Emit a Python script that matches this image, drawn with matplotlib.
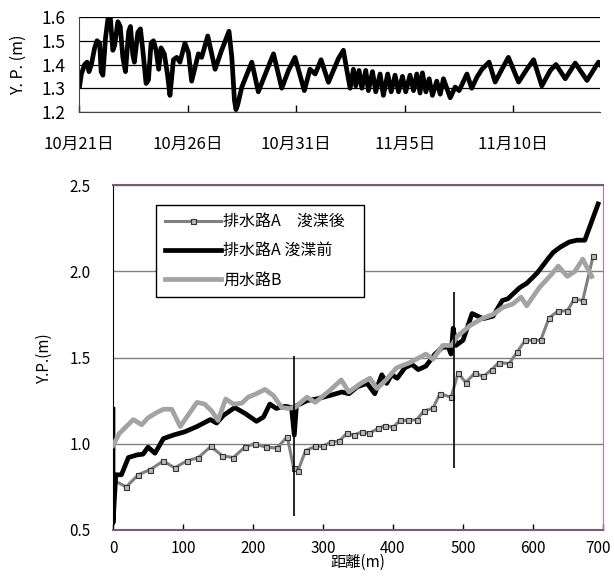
import matplotlib
matplotlib.use("Agg")
import matplotlib.pyplot as plt
from matplotlib.transforms import ScaledTranslation

plt.rcParams["font.family"] = ["Noto Sans CJK JP", "DejaVu Sans"]

# --- top panel: water level record, days counted from 10/21 ---
WL_DAYS = [
    0.03, 0.11, 0.26, 0.37, 0.46, 0.57, 0.72, 0.83, 0.95, 1.02, 1.10, 1.22,
    1.33, 1.44, 1.56, 1.64, 1.79, 1.90, 2.02, 2.14, 2.29, 2.37, 2.48, 2.55,
    2.71, 2.83, 2.94, 3.09, 3.20, 3.32, 3.43, 3.55, 3.67, 3.78, 3.93, 4.08,
    4.19, 4.35, 4.50, 4.65, 4.88, 5.04, 5.19, 5.50, 5.65, 5.93, 6.27, 6.57,
    6.91, 7.04, 7.16, 7.23, 7.31, 7.50, 7.96, 8.26, 8.65, 8.96, 9.34, 9.65,
    9.95, 10.38, 10.64, 10.88, 11.15, 11.49, 11.95, 12.18, 12.33, 12.49,
    12.64, 12.75, 12.90, 13.03, 13.21, 13.33, 13.52, 13.67, 13.87, 14.02,
    14.22, 14.38, 14.56, 14.72, 14.90, 15.05, 15.25, 15.41, 15.56, 15.71,
    15.82, 15.98, 16.13, 16.28, 16.48, 16.64, 16.79, 17.10, 17.33, 17.51,
    17.87, 18.09, 18.32, 18.56, 18.89, 19.17, 19.48, 19.78, 20.25, 20.63,
    20.94, 21.32, 21.71, 21.97, 22.40, 22.86, 23.40, 23.93, 24.00,
]
WL_LEVEL = [
    1.31, 1.36, 1.40, 1.41, 1.37, 1.40, 1.47, 1.50, 1.49, 1.37, 1.355, 1.51,
    1.59, 1.60, 1.46, 1.48, 1.58, 1.56, 1.43, 1.37, 1.54, 1.56, 1.44, 1.41,
    1.535, 1.55, 1.46, 1.32, 1.335, 1.49, 1.50, 1.46, 1.38, 1.47, 1.445, 1.355,
    1.27, 1.42, 1.43, 1.41, 1.49, 1.45, 1.33, 1.445, 1.43, 1.52, 1.38, 1.46,
    1.54, 1.43, 1.25, 1.21, 1.23, 1.305, 1.41, 1.285, 1.375, 1.445, 1.30, 1.375,
    1.43, 1.29, 1.38, 1.36, 1.42, 1.325, 1.425, 1.46, 1.38, 1.30,
    1.38, 1.31, 1.375, 1.30, 1.375, 1.29, 1.37, 1.285, 1.36, 1.27,
    1.36, 1.285, 1.355, 1.285, 1.35, 1.285, 1.355, 1.29, 1.36, 1.28,
    1.365, 1.285, 1.34, 1.27, 1.33, 1.275, 1.34, 1.26, 1.305, 1.29,
    1.36, 1.30, 1.345, 1.38, 1.41, 1.326, 1.38, 1.43, 1.326, 1.38,
    1.42, 1.31, 1.375, 1.40, 1.34, 1.406, 1.333, 1.41, 1.40,
]
DATE_TICKS = [0, 5, 10, 15, 20]
DATE_LABELS = ["10月21日", "10月26日", "10月31日", "11月5日", "11月10日"]

# --- bottom panel: longitudinal profile ---
AFTER_X = [0, 19, 36, 53, 72, 88, 105, 122, 140, 156, 172, 188, 203, 218, 234,
           249, 258, 264, 275, 289, 300, 311, 323, 334, 344, 356, 366, 379,
           389, 400, 410, 421, 434, 444, 457, 467, 483, 493, 504, 517, 529,
           541, 551, 566, 577, 589, 600, 611, 623, 636, 649, 659, 671, 686]
AFTER_Y = [0.79, 0.75, 0.82, 0.85, 0.90, 0.86, 0.90, 0.92, 0.985, 0.93, 0.92,
           0.98, 1.00, 0.98, 0.975, 1.04, 0.86, 0.84, 0.96, 0.985, 0.985, 1.01,
           1.015, 1.06, 1.05, 1.07, 1.06, 1.09, 1.105, 1.095, 1.135, 1.135,
           1.14, 1.19, 1.205, 1.29, 1.27, 1.41, 1.355, 1.41, 1.39, 1.43, 1.47,
           1.465, 1.53, 1.60, 1.60, 1.60, 1.73, 1.77, 1.77, 1.84, 1.83, 2.09]

BEFORE_X = [0, 0, 4, 12, 22, 34, 43, 50, 60, 72, 86, 103, 120, 139, 148, 158,
            174, 189, 205, 215, 224, 233, 246, 255, 259, 262, 277, 291, 310,
            327, 337, 349, 363, 374, 384, 391, 398, 406, 417, 427, 436, 447,
            460, 471, 479, 483, 486, 490, 500, 513, 529, 543, 556, 564, 581,
            591, 606, 621, 629, 639, 652, 663, 674, 693]
BEFORE_Y = [1.20, 0.54, 0.82, 0.82, 0.92, 0.935, 0.94, 0.98, 0.945, 1.03, 1.05,
            1.07, 1.10, 1.14, 1.12, 1.165, 1.21, 1.175, 1.13, 1.155, 1.23,
            1.205, 1.217, 1.21, 1.05, 1.22, 1.25, 1.26, 1.28, 1.30, 1.29, 1.33,
            1.35, 1.29, 1.40, 1.35, 1.40, 1.38, 1.44, 1.46, 1.43, 1.45, 1.52,
            1.56, 1.56, 1.52, 1.67, 1.57, 1.60, 1.755, 1.725, 1.74, 1.83, 1.84,
            1.905, 1.93, 1.99, 2.07, 2.11, 2.14, 2.17, 2.18, 2.18, 2.39]

CANAL_X = [0, 9, 29, 41, 50, 62, 72, 84, 96, 120, 131, 141, 150, 161, 172, 184,
           193, 205, 217, 229, 241, 250, 260, 277, 289, 310, 326, 337, 354,
           367, 377, 390, 405, 424, 447, 457, 471, 484, 491, 510, 527, 543,
           557, 571, 583, 591, 609, 626, 636, 649, 660, 671, 684]
CANAL_Y = [0.99, 1.06, 1.14, 1.11, 1.15, 1.18, 1.20, 1.20, 1.10, 1.24, 1.23,
           1.19, 1.135, 1.26, 1.23, 1.235, 1.27, 1.29, 1.315, 1.28, 1.21,
           1.205, 1.21, 1.27, 1.24, 1.31, 1.37, 1.30, 1.35, 1.38, 1.32, 1.37,
           1.44, 1.47, 1.52, 1.49, 1.57, 1.57, 1.62, 1.685, 1.725, 1.75, 1.79,
           1.81, 1.85, 1.80, 1.905, 1.98, 2.03, 1.97, 2.00, 2.07, 1.97]

VLINE_X = [259, 487]
VLINE_LOW = [0.58, 0.86]
VLINE_HIGH = [1.51, 1.88]

LABELS = ["排水路A\u3000浚渫後", "排水路A 浚渫前", "用水路B"]
DIST_TICKS = [0, 100, 200, 300, 400, 500, 600, 700]
LEVEL_TICKS = [0.5, 1.0, 1.5, 2.0, 2.5]

W, H = 614, 580
fig = plt.figure(figsize=(W / 100, H / 100), dpi=100)


def px_axes(left, top, right, bottom):
    return fig.add_axes([left / W, 1 - bottom / H, (right - left) / W, (bottom - top) / H])


# top panel
ax1 = px_axes(79, 17, 600, 112)
ax1.plot(WL_DAYS, WL_LEVEL, color="black", linewidth=3.4, solid_joinstyle="round")
ax1.set_xlim(0, 24)
ax1.set_ylim(1.2, 1.6)
ax1.set_yticks([1.2, 1.3, 1.4, 1.5, 1.6])
ax1.set_yticklabels(["1.2", "1.3", "1.4", "1.5", "1.6"])
ax1.set_xticks(DATE_TICKS)
ax1.set_xticklabels(DATE_LABELS)
ax1.grid(axis="y", color="black", linewidth=0.9)
ax1.set_axisbelow(True)
for s in ("top", "right"):
    ax1.spines[s].set_visible(False)
ax1.spines["left"].set_color("#444444")
ax1.spines["bottom"].set_color("#444444")
ax1.tick_params(axis="x", direction="in", length=5, width=1, pad=17, labelsize=12)
ax1.tick_params(axis="y", length=0, pad=10, labelsize=12.5)
ax1.set_ylabel("Y. P. (m)", fontsize=11.5)
ax1.yaxis.set_label_coords(-0.10, 0.5)

# bottom panel
ax2 = px_axes(113, 185, 603, 530)
ax2.plot(AFTER_X, AFTER_Y, color="#808080", linewidth=2.2, marker="s",
         markersize=3.6, markerfacecolor="#b8b8b8", markeredgecolor="#333333",
         markeredgewidth=0.8, label=LABELS[0], zorder=3)
ax2.plot(BEFORE_X, BEFORE_Y, color="black", linewidth=3.4, label=LABELS[1], zorder=3)
ax2.plot(CANAL_X, CANAL_Y, color="#a3a3a3", linewidth=3.4, label=LABELS[2], zorder=4)
ax2.vlines(VLINE_X, VLINE_LOW, VLINE_HIGH, color="black", linewidth=1.2, zorder=5)
ax2.set_xlim(0, 700)
ax2.set_ylim(0.5, 2.5)
ax2.set_xticks(DIST_TICKS)
ax2.set_yticks(LEVEL_TICKS)
ax2.set_yticklabels([f"{v:.1f}" for v in LEVEL_TICKS])
ax2.grid(axis="y", color="#808080", linewidth=1.0)
ax2.set_axisbelow(True)
ax2.spines["left"].set_color("black")
ax2.spines["top"].set_color("#7a5a78")
ax2.spines["bottom"].set_color("#7a5a78")
ax2.spines["right"].set_color("#b07ab0")
ax2.spines["top"].set_linewidth(1.5)
ax2.spines["bottom"].set_linewidth(1.5)
ax2.tick_params(axis="x", direction="in", length=4, width=1, pad=7, labelsize=11)
ax2.tick_params(axis="y", length=0, pad=16, labelsize=11)
ax2.set_xlabel("距離(m)", fontsize=11)
ax2.xaxis.set_label_coords(0.5, -0.07)
ax2.set_ylabel("Y.P.(m)", fontsize=11)
ax2.yaxis.set_label_coords(-0.122, 0.5)

# keep the last distance label inside the picture
last = ax2.get_xticklabels()[-1]
last.set_transform(last.get_transform() + ScaledTranslation(-5 / 100, 0, fig.dpi_scale_trans))

leg = ax2.legend(loc="upper left", bbox_to_anchor=(43 / 490, 1 - 23 / 345, 208 / 490, 0.01),
                 mode="expand", fontsize=11.5, numpoints=1, handlelength=3.5,
                 handletextpad=0.15, labelspacing=0.75, borderpad=0.55,
                 borderaxespad=0, fancybox=False, framealpha=1, edgecolor="black")
leg.get_frame().set_linewidth(1.0)

fig.savefig("out.png", dpi=100)
